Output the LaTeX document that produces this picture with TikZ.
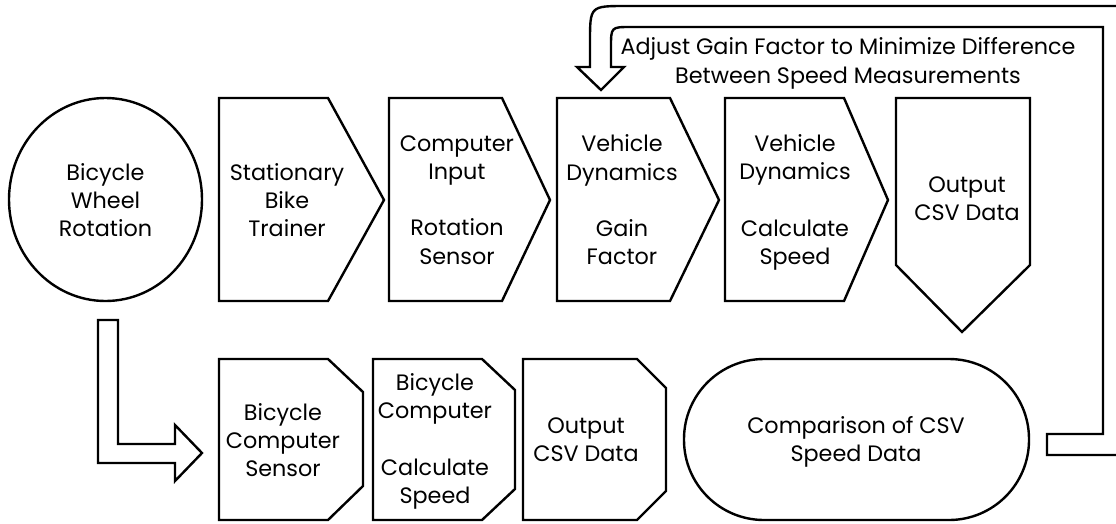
\documentclass[tikz,border=0pt]{standalone}
\usepackage{fontspec}
\setmainfont{Poppins}
\begin{document}
\begin{tikzpicture}[x=1pt,y=-1pt,
  shp/.style={draw=black,line width=2.4pt,line join=miter,fill=white},
  lbl/.style={inner sep=0pt,align=center,font=\fontsize{22.3}{28.3}\selectfont}]
\useasboundingbox (0,0) rectangle (1116,523);
% top row shapes
\draw[shp] (105.5,199.5) ellipse[x radius=96.5,y radius=101.5];
\draw[shp] (219,98) -- (328,98) -- (384,200) -- (328,301) -- (219,301) -- cycle;
\draw[shp] (389,98) -- (502,98) -- (550,200) -- (502,301) -- (389,301) -- cycle;
\draw[shp] (557,98) -- (670,98) -- (719,200) -- (670,301) -- (557,301) -- cycle;
\draw[shp] (725,98) -- (844,98) -- (888,200) -- (844,301) -- (725,301) -- cycle;
\draw[shp] (896,98) -- (1030,98) -- (1030,265) -- (962,332) -- (896,265) -- cycle;
% bottom row shapes
\draw[shp] (219,359) -- (328,359) -- (363,392) -- (363,486) -- (328,520) -- (219,520) -- cycle;
\draw[shp] (373,359) -- (482,359) -- (515,390) -- (515,489) -- (482,520) -- (373,520) -- cycle;
\draw[shp] (523,359) -- (637,359) -- (666,388) -- (666,491) -- (637,520) -- (523,520) -- cycle;
\draw[shp,rounded corners=80pt] (684,359) rectangle (1029,520);
% L block arrow
\draw[shp] (98,320) -- (118,320) -- (118,444) -- (175,444) -- (175,425) -- (202,453)
  -- (175,481) -- (175,463) -- (98,463) -- cycle;
% feedback block arrow
\begin{scope}
\clip (0,0) rectangle (1116,523);
\draw[shp] (577,67) -- (601,90) -- (624,67) -- (611,67) -- (611,47)
  .. controls (611,27) .. (631,27) -- (1103,27) -- (1103,434) -- (1047,434)
  -- (1047,455) -- (1124,455) -- (1124,6) -- (626,6)
  .. controls (590,6) .. (590,42) -- (590,67) -- cycle;
\end{scope}
% labels
\node[lbl] (t0) at (105.5,200) {Bicycle\\Wheel\\Rotation};
\node[lbl] (t1) at (287,200) {Stationary\\Bike\\Trainer};
\node[lbl] (t2) at (457,200) {Computer\\Input\\[28pt]Rotation\\Sensor};
\node[lbl] (t3) at (622,200) {Vehicle\\Dynamics\\[28pt]Gain\\Factor};
\node[lbl] (t4) at (795,202.5) {Vehicle\\Dynamics\\[28pt]Calculate\\Speed};
\node[lbl] (t5) at (967,198.5) {Output\\CSV Data};
\node[lbl] (tf) at (848,63.5) {Adjust Gain Factor to Minimize Difference\\Between Speed Measurements};
\node[lbl] (b1) at (283,440) {Bicycle\\Computer\\Sensor};
\node[lbl] (b2) at (435,441.5) {Bicycle\\Computer\\[28pt]Calculate\\Speed};
\node[lbl] (b3) at (586,440) {Output\\CSV Data};
\node[lbl] (b4) at (856,442) {Comparison of CSV\\Speed Data};
\end{tikzpicture}
\end{document}
